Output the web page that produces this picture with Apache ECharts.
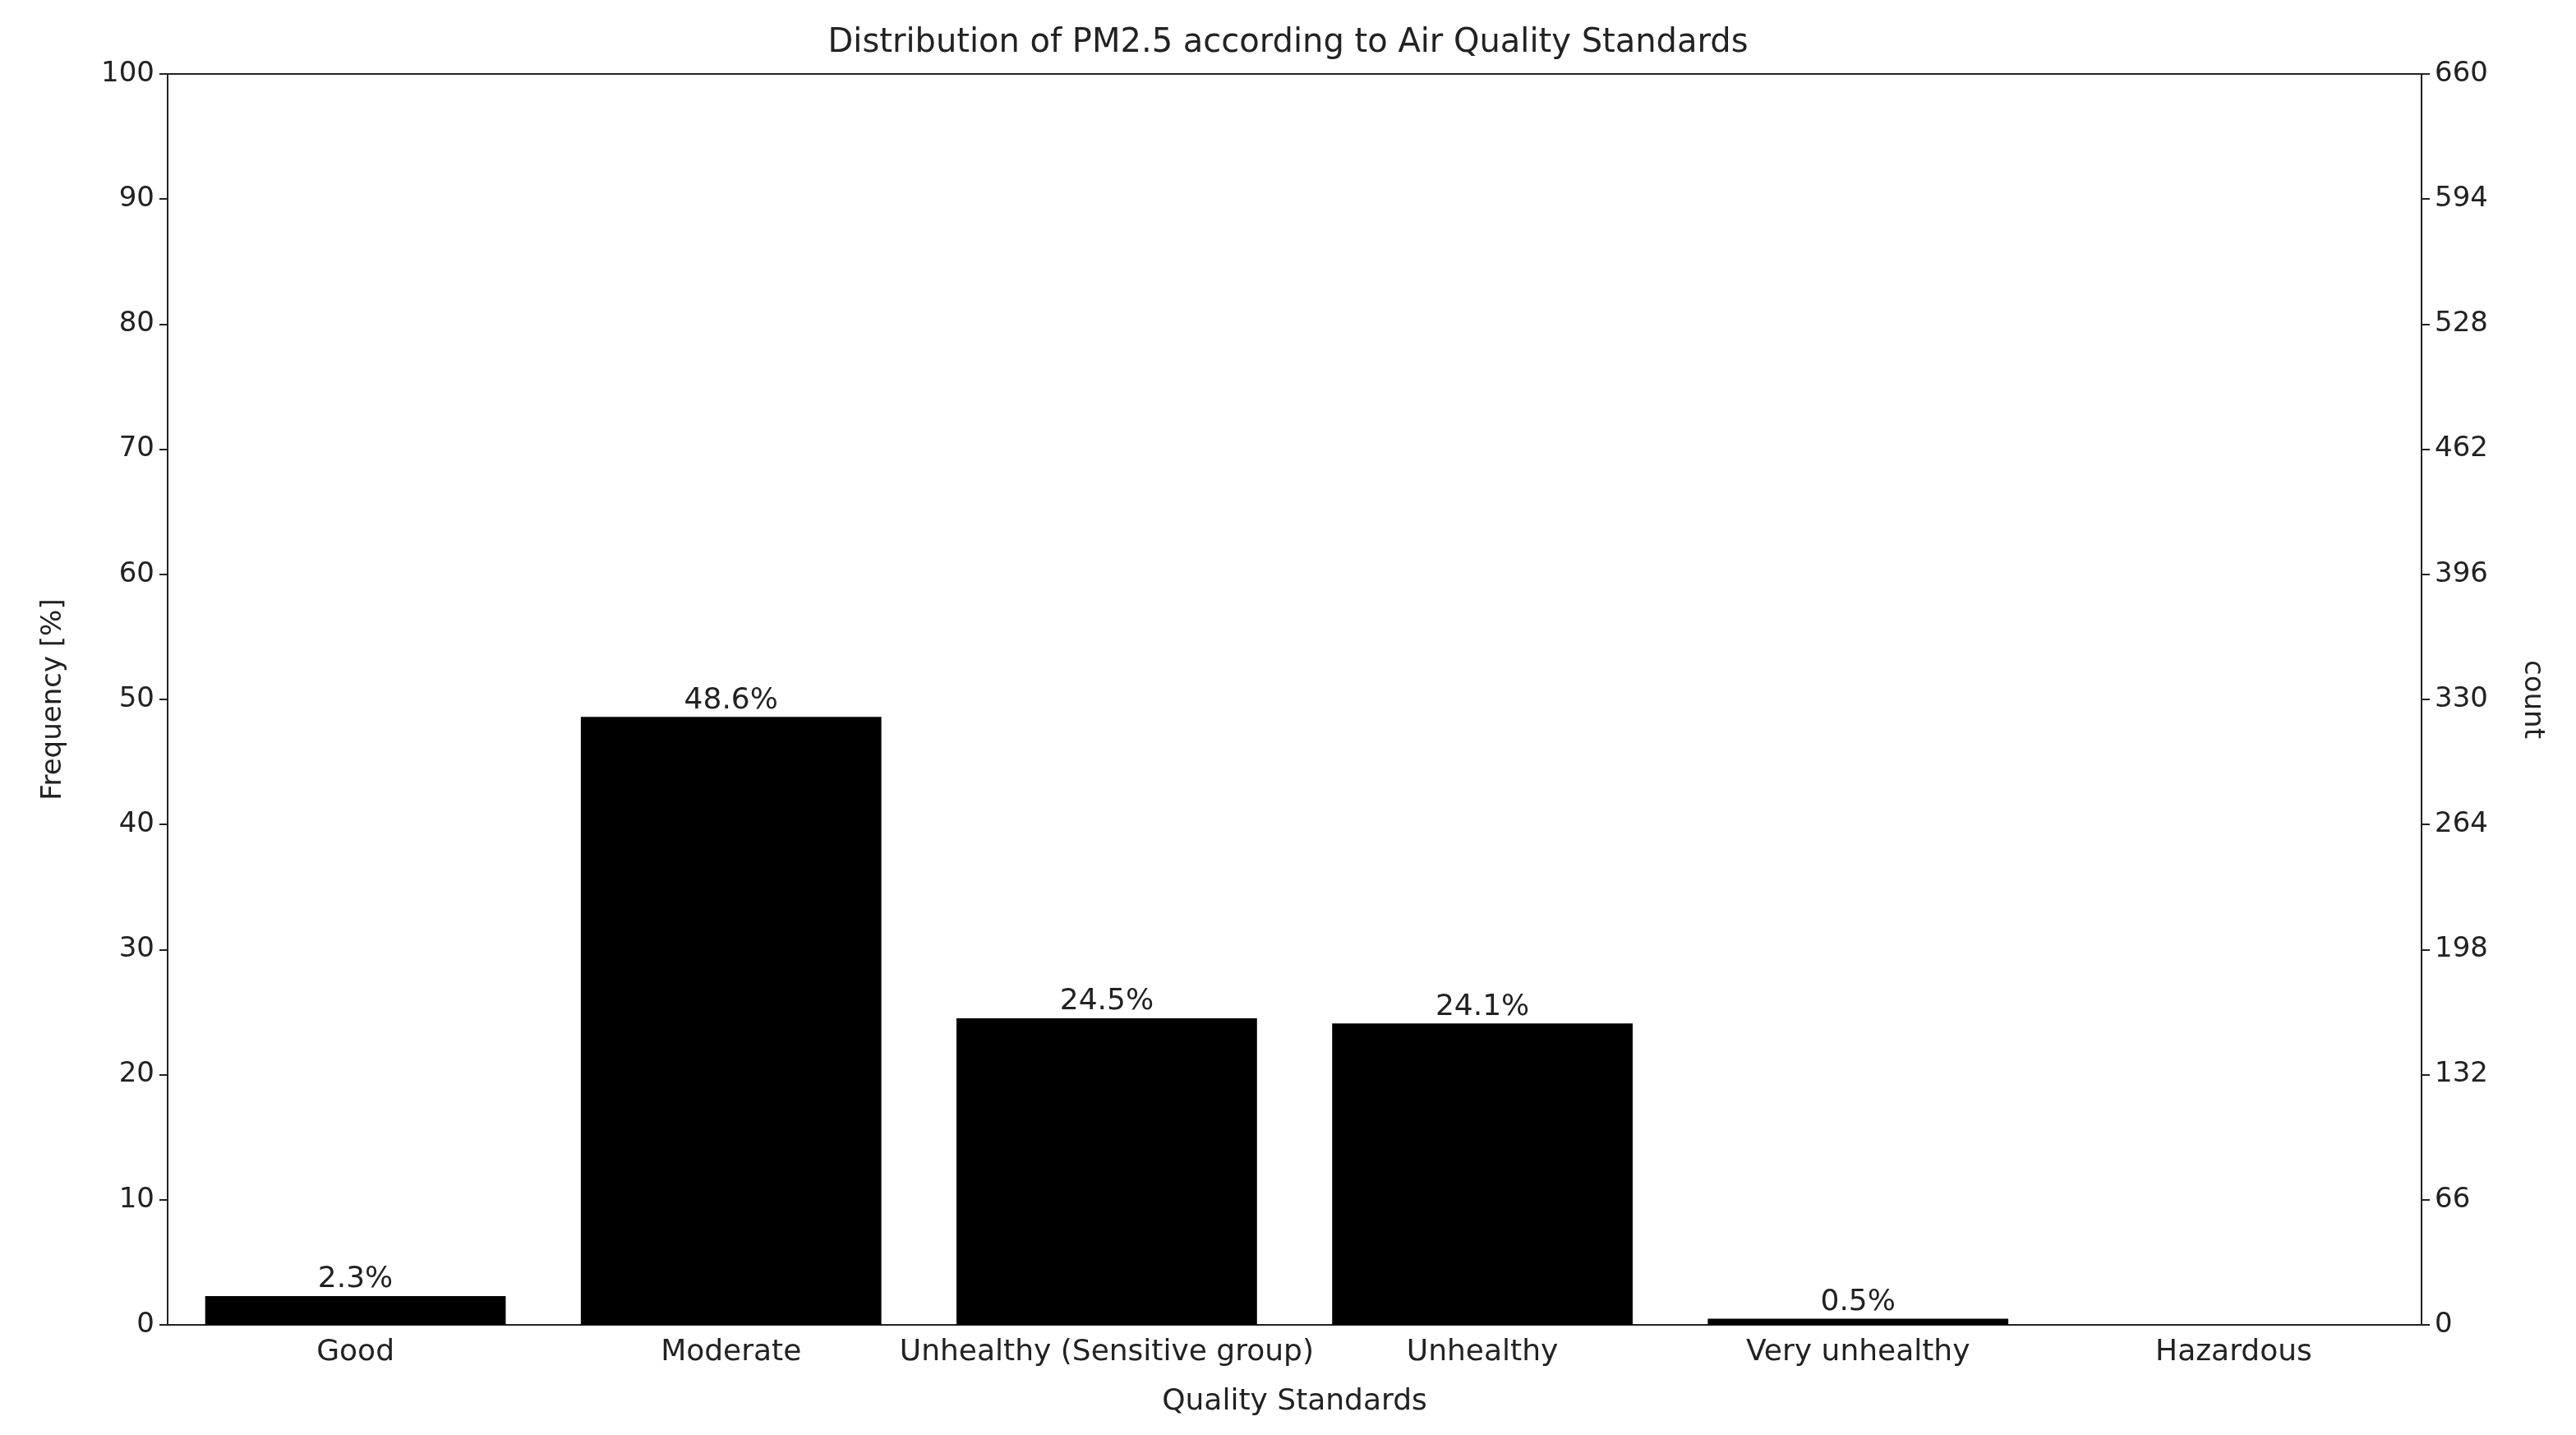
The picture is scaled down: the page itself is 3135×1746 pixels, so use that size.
<!DOCTYPE html>
<html>
<head>
<meta charset="utf-8">
<script src="https://cdn.jsdelivr.net/npm/echarts@6/dist/echarts.min.js"></script>
<style>html,body{margin:0;padding:0;background:#fff}#main{width:3135px;height:1746px}</style>
</head>
<body>
<div id="main"></div>
<script>
// data
var categories = ['Good', 'Moderate', 'Unhealthy (Sensitive group)', 'Unhealthy', 'Very unhealthy', 'Hazardous'];
var frequency = [2.3, 48.6, 24.5, 24.1, 0.5, 0];
var pctLabels = ['2.3%', '48.6%', '24.5%', '24.1%', '0.5%', ''];

var font = 'DejaVu Sans';
var chart = echarts.init(document.getElementById('main'));

var option = {
    animation: false,
    backgroundColor: '#fff',
    title: {
        text: 'Distribution of PM2.5 according to Air Quality Standards',
        left: 'center',
        top: 28,
        textStyle: {fontFamily: font, fontSize: 40, fontWeight: 'normal', color: '#222'}
    },
    grid: {left: 204, right: 188, top: 90, bottom: 134},
    xAxis: {
        type: 'category',
        data: categories,
        name: 'Quality Standards',
        nameLocation: 'middle',
        nameGap: 76,
        nameTextStyle: {fontFamily: font, fontSize: 36, color: '#222'},
        axisLine: {lineStyle: {color: '#222', width: 2}},
        axisTick: {alignWithLabel: true, length: 10, lineStyle: {color: '#222', width: 2}},
        axisLabel: {fontFamily: font, fontSize: 36, color: '#222', margin: 16, interval: 0}
    },
    yAxis: [{
        type: 'value',
        min: 0, max: 100, interval: 10,
        name: 'Frequency [%]',
        nameLocation: 'middle',
        nameGap: 122,
        nameTextStyle: {fontFamily: font, fontSize: 34, color: '#222'},
        splitLine: {show: false},
        axisLine: {show: true, lineStyle: {color: '#222', width: 2}},
        axisTick: {show: true, length: 10, lineStyle: {color: '#222', width: 2}},
        axisLabel: {fontFamily: font, fontSize: 34, color: '#222', margin: 16}
    }, {
        type: 'value',
        min: 0, max: 660, interval: 66,
        name: 'count',
        nameLocation: 'middle',
        nameGap: 118,
        nameRotate: -90,
        nameTextStyle: {fontFamily: font, fontSize: 34, color: '#222'},
        splitLine: {show: false},
        axisLine: {show: true, lineStyle: {color: '#222', width: 2}},
        axisTick: {show: true, length: 10, lineStyle: {color: '#222', width: 2}},
        axisLabel: {fontFamily: font, fontSize: 34, color: '#222', margin: 16}
    }],
    series: [{
        type: 'bar',
        data: frequency,
        barWidth: '80%',
        itemStyle: {color: '#000'},
        label: {
            show: true,
            position: 'top',
            distance: 2,
            fontFamily: font,
            fontSize: 36,
            color: '#222',
            formatter: function (p) { return pctLabels[p.dataIndex]; }
        }
    }],
    graphic: [{
        type: 'rect',
        shape: {x: 204, y: 90, width: 3135 - 204 - 188, height: 1746 - 90 - 134},
        style: {fill: 'none', stroke: '#222', lineWidth: 2},
        silent: true
    }]
};
chart.setOption(option);
</script>
</body>
</html>
